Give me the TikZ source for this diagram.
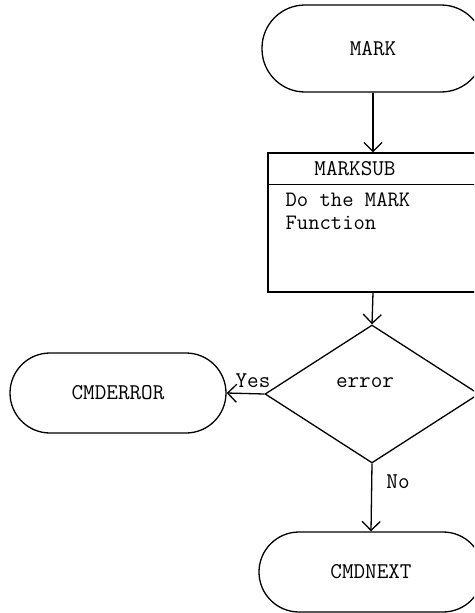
\documentclass[tikz,border=0pt]{standalone}
\usetikzlibrary{shapes.geometric,arrows.meta,calc}
\begin{document}
\begin{tikzpicture}[x=1pt,y=-1pt,
  line width=1.3pt,
  every node/.style={font=\fontsize{22.5}{20}\ttfamily},
  term/.style={draw, rounded corners=#1, inner sep=0pt},
  lbl/.style={inner sep=0pt},
  arr/.style={-{Straight Barb[length=9pt,width=18pt,line width=1.3pt]}}
]
\useasboundingbox (0,0) rectangle (474,613);
\clip (0,0) rectangle (474,613);

\node[term=43pt, minimum width=222pt, minimum height=87pt] (mark) at (373,48.5) {MARK};
\node[draw, rectangle, inner sep=0pt, minimum width=210pt, minimum height=139pt] (sub) at (373,222.5) {};
\draw ($(sub.north west)+(0,32)$) coordinate (hl) -- ($(sub.north east)+(0,32)$) coordinate (hr);
\node[lbl] (subhead) at (355,169) {MARKSUB};
\node[lbl, anchor=north west, align=left, font=\fontsize{22}{23}\ttfamily] (body) at (285,192) {Do the MARK\\Function};

\node[draw, diamond, inner sep=0pt, minimum width=214pt, minimum height=138pt] (dia) at (372,394) {};
\node[lbl] (dtext) at (365,383) {error};

\node[term=40pt, minimum width=216pt, minimum height=80pt] (err) at (118,393) {CMDERROR};
\node[term=40pt, minimum width=224pt, minimum height=80pt] (next) at (371,572) {CMDNEXT};

\draw[arr] (mark.south) -- (sub.north);
\draw[arr] (sub.south) -- (dia.north);
\draw[arr] (dia.west) -- (err.east);
\draw[arr] (dia.south) -- (next.north);

\node[lbl] (yes) at (253,381) {Yes};
\node[lbl] (no) at (398,482) {No};
\end{tikzpicture}
\end{document}
